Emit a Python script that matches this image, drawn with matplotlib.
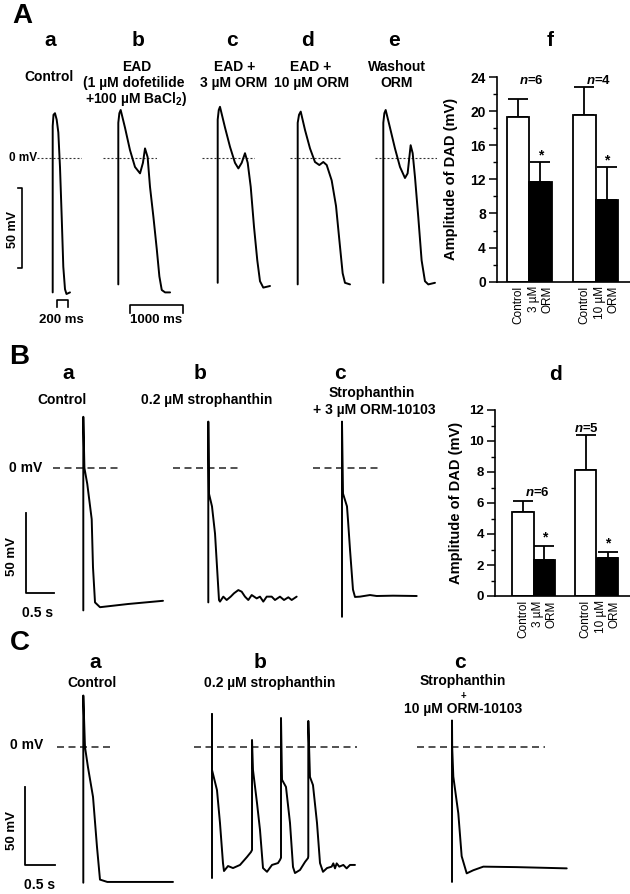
import numpy as np
import matplotlib
matplotlib.use("Agg")
import matplotlib.pyplot as plt
from matplotlib.ticker import AutoMinorLocator

plt.rcParams['font.family'] = ['Liberation Sans', 'DejaVu Sans']
plt.rcParams['mathtext.fontset'] = 'custom'
plt.rcParams['mathtext.rm'] = 'Liberation Sans:bold'
plt.rcParams['mathtext.it'] = 'Liberation Sans:italic:bold'
plt.rcParams['mathtext.bf'] = 'Liberation Sans:bold'

# ---------------------------------------------------------------------------
# traces (time in ms from upstroke, membrane potential in mV)
# ---------------------------------------------------------------------------
# panel A - EAD protocol
a_ctrl = np.array([(0, -84), (0, 20), (15, 27), (43, 28), (75, 24), (106, 16), (138, -6),
                   (170, -37), (200, -68), (232, -82), (260, -85), (326, -84)])
a_ead = np.array([(0, -79), (0, 22), (20, 28), (45, 30), (126, 19), (220, 5), (315, -5.6),
                  (410, -9.6), (465, -3), (504, 6), (553, 0.6), (598, -18), (663, -37),
                  (726, -57), (775, -74), (820, -82.5), (883, -84), (977, -84)])
a_orm3 = np.array([(0, -78), (0, 24), (20, 30), (43, 32), (138, 19), (232, 7), (326, -3),
                   (390, -6.5), (453, -3), (515, 3), (566, -3), (623, -18), (685, -43),
                   (747, -64), (798, -77), (860, -81), (987, -80)])
a_orm10 = np.array([(0, -79), (0, 22), (25, 27), (57, 29), (138, 17.5), (232, 6), (326, -2.5),
                    (408, -4.4), (483, -2.5), (547, -4.4), (641, -14), (723, -30), (785, -51),
                    (848, -72), (892, -78), (987, -79)])
a_wash = np.array([(0, -78), (0, 22), (20, 28), (45, 30), (126, 19), (220, 6), (315, -5.6),
                   (409, -12.5), (459, -9.6), (516, 8), (554, 3), (598, -12), (660, -37),
                   (723, -64), (786, -77), (849, -79), (975, -78)])

# panel B - DAD protocol
b_ctrl = np.array([(0, -89), (0, 32), (20, 0), (71, -10), (150, -32), (173, -62), (209, -84),
                   (298, -87), (800, -85), (1423, -83)])
b_stro = np.array([(0, -84), (0, 29), (12, -16), (66, -24), (120, -41), (173, -72), (191, -82.5),
                   (209, -83.5), (268, -80.4), (328, -82.5), (400, -80.4), (459, -78.3),
                   (536, -76.3), (596, -77.3), (655, -80.4), (714, -82.5), (775, -79.4),
                   (864, -81.5), (923, -80.4), (982, -83.5), (1043, -80.4), (1132, -80.4),
                   (1191, -82.5), (1280, -80.4), (1352, -82.5), (1429, -80.8), (1489, -82.5),
                   (1578, -80.4)])
b_orm3 = np.array([(0, -93), (0, 29), (18, -16), (89, -24), (107, -32.5), (143, -51), (196, -76),
                   (232, -80.6), (321, -80.4), (500, -79.4), (619, -80), (911, -79.8), (1334, -80)])

# panel C - triggered activity
c_ctrl = np.array([(0, -87), (0, 33), (28, 0), (78, -13), (162, -32), (228, -64), (278, -85),
                   (400, -86.5), (1495, -86.5)])
c_stro = np.array([(0, -84), (0, 21), (0, -14.7), (83, -27.6), (133, -48.7), (183, -74.4),
                   (200, -79.5), (267, -76.3), (350, -77.6), (467, -75.6), (583, -70.5),
                   (650, -67.3), (667, -66), (667, 4.5), (683, -14.7), (750, -35.9),
                   (800, -53.2), (850, -77.6), (917, -80), (1000, -75.6), (1100, -74.4),
                   (1133, -72.4), (1150, -71), (1150, 18.6), (1167, -21), (1233, -25.6),
                   (1300, -48.7), (1350, -76.9), (1383, -80.8), (1467, -78.8), (1550, -73.7),
                   (1600, -71.2), (1605, -70), (1605, 16.7), (1633, -19.2), (1683, -24.4),
                   (1750, -48.7), (1800, -74.4), (1850, -80), (1917, -77.6), (1994, -76.7),
                   (2022, -74.6), (2050, -77.8), (2078, -74.6), (2122, -76.7), (2189, -75.6),
                   (2244, -77.8), (2300, -75.6), (2383, -75.6)])
c_orm10 = np.array([(0, -86.5), (0, 17), (3, 0), (22, -19), (105, -42.5), (161, -70), (245, -81),
                    (355, -79), (522, -76.7), (1078, -77), (1912, -77.8)])

# bar charts: DAD amplitude (mV), mean and +SEM
bar_labels_f = ['Control', '3 µM\nORM', 'Control', '10 µM\nORM']
dad_f = [19.3, 11.7, 19.6, 9.6]
sem_f = [2.1, 2.3, 3.2, 3.9]
n_f = ['$n$=6', '$n$=4']

bar_labels_d = ['Control', '3 µM\nORM', 'Control', '10 µM\nORM']
dad_d = [5.45, 2.35, 8.1, 2.45]
sem_d = [0.65, 0.9, 2.3, 0.42]
n_d = ['$n$=6', '$n$=5']

# ---------------------------------------------------------------------------
W, H = 630, 894
fig = plt.figure(figsize=(W / 100, H / 100), dpi=100)


def px_axes(left, top, width, height):
    return fig.add_axes([left / W, 1 - (top + height) / H, width / W, height / H])


def put(x, y, s, size=10, weight='bold', **kw):
    kw.setdefault('ha', 'center')
    kw.setdefault('va', 'center')
    return fig.text(x / W, 1 - y / H, s, fontsize=size, fontweight=weight, **kw)


# pixel scale of each row: position of 0 mV, px per ms, px per mV, zero-line dashes
ROWS = {'A': dict(zero=158, px_ms=0.053, px_mv=1.6, dash=(1.8, 1.8), dlw=0.8, col='#333333'),
        'B': dict(zero=468, px_ms=0.056, px_mv=1.6, dash=(4.2, 2.7), dlw=1.2, col='#333333'),
        'C': dict(zero=747, px_ms=0.060, px_mv=1.56, dash=(4.2, 2.7), dlw=1.2, col='#333333')}


def trace_ax(row, t0_px, span, trace):
    r = ROWS[row]
    lo, hi = span
    vlo, vhi = -100, 40
    ax = px_axes(t0_px + lo * r['px_ms'], r['zero'] - vhi * r['px_mv'],
                 (hi - lo) * r['px_ms'], (vhi - vlo) * r['px_mv'])
    ax.set_xlim(lo, hi)
    ax.set_ylim(vlo, vhi)
    ax.axis('off')
    ax.axhline(0, color=r['col'], lw=r['dlw'], dashes=r['dash'])
    ax.plot(trace[:, 0], trace[:, 1], color='k', lw=1.4, clip_on=False,
            solid_joinstyle='round', solid_capstyle='round')
    return ax


def dad_bars(rect, vals, errs, labels, pos, xlim, ymax, step, nlab, nxy, star_gap, fs, lab_x):
    ax = px_axes(*rect)
    ax.bar(pos, vals, width=1.0, color=['white', 'black', 'white', 'black'],
           edgecolor='k', lw=1.3, zorder=2)
    ax.errorbar(pos, vals, yerr=[np.zeros(len(vals)), errs], fmt='none', ecolor='k',
                elinewidth=1.3, capsize=7, capthick=1.3, zorder=1)
    for i in (1, 3):
        ax.text(pos[i], vals[i] + errs[i] + star_gap, '*', ha='center', va='center',
                fontsize=10, fontweight='bold')
    for s, (x, y) in zip(nlab, nxy):
        ax.text(x, y, s, ha='center', va='center', fontsize=9.5, fontweight='bold')
    ax.set_xlim(*xlim)
    ax.set_ylim(0, ymax)
    ax.set_yticks(np.arange(0, ymax + 0.1, step))
    ax.yaxis.set_minor_locator(AutoMinorLocator(2))
    ax.set_xticks(pos, labels, rotation=90, fontsize=8.5, multialignment='right')
    for t in ax.get_yticklabels():
        t.set_fontweight('bold')
    ax.tick_params(axis='y', which='major', length=6, width=1.1, labelsize=fs, pad=2)
    ax.tick_params(axis='y', which='minor', length=3, width=1.0)
    ax.tick_params(axis='x', length=0, pad=3)
    for side in ('top', 'right'):
        ax.spines[side].set_visible(False)
    for side in ('left', 'bottom'):
        ax.spines[side].set_linewidth(1.2)
    ax.set_ylabel('Amplitude of DAD (mV)', fontsize=10.5, fontweight='bold')
    ax.yaxis.set_label_coords(lab_x, 0.5)
    return ax


# ---------------------------- panel A -------------------------------------
ax_a = trace_ax('A', 52.7, (-296, 553), a_ctrl)
ax_b = trace_ax('A', 118.3, (-289, 730), a_ead)
trace_ax('A', 217.7, (-296, 704), a_orm3)
trace_ax('A', 297.7, (-145, 836), a_orm10)
trace_ax('A', 383.3, (-157, 1007), a_wash)

# scale bars: 50 mV, 200 ms, 1000 ms
ax_a.plot([-655, -585, -585, -655], [-19, -19, -69, -69], color='k', lw=1.2, clip_on=False)
ax_a.plot([81, 81, 281, 281], [-93, -89, -89, -93], color='k', lw=1.2, clip_on=False)
ax_b.plot([221, 221, 1221, 1221], [-97, -92, -92, -97], color='k', lw=1.2, clip_on=False)

put(22, 16, 'A', 20)
for x, s in [(50, 'a'), (138, 'b'), (232, 'c'), (308, 'd'), (394, 'e'), (550, 'f')]:
    put(x, 40, s, 15)
put(49, 77, 'Control')
put(137, 67, 'EAD')
put(134, 83, '(1 µM dofetilide')
put(136, 99, '+100 µM BaCl$_2$)')
put(235, 67, 'EAD +')
put(234, 83, '3 µM ORM')
put(311, 67, 'EAD +')
put(311, 83, '10 µM ORM')
put(397, 67, 'Washout')
put(397, 83, 'ORM')
put(23, 158, '0 mV', 8.5)
put(13, 229, '50 mV', 9, rotation=90)
put(61, 320, '200 ms', 9.5)
put(156, 320, '1000 ms', 9.5)

dad_bars((497, 77, 133, 204.7), dad_f, sem_f, bar_labels_f, [0, 1, 2.95, 3.95],
         (-0.93, 4.98), 24, 4, n_f, [(0.6, 23.6), (3.57, 23.6)], 0.75, 10, -0.29)

# ---------------------------- panel B -------------------------------------
ax_ba = trace_ax('B', 83.3, (-541, 691), b_ctrl)
trace_ax('B', 208.3, (-630, 602), b_stro)
trace_ax('B', 342, (-518, 714), b_orm3)
ax_ba.plot([-1032, -1032, -532], [-28, -78, -78], color='k', lw=1.3, clip_on=False)

put(19, 357, 'B', 20)
put(68, 373, 'a', 15)
put(200, 373, 'b', 15)
put(340, 373, 'c', 15)
put(555, 375, 'd', 15)
put(62, 400, 'Control')
put(207, 400, '0.2 µM strophanthin')
put(372, 393, 'Strophanthin')
put(374, 410, '+ 3 µM ORM-10103')
put(26, 468, '0 mV', 10)
put(12, 557, '50 mV', 9.5, rotation=90)
put(38, 613, '0.5 s', 10)

dad_bars((495, 410, 135, 186), dad_d, sem_d, bar_labels_d, [0, 1, 2.92, 3.94],
         (-1.3, 4.98), 12, 2, n_d, [(0.65, 6.65), (2.96, 10.8)], 0.5, 9.5, -0.24)

# ---------------------------- panel C -------------------------------------
ax_ca = trace_ax('C', 83.3, (-438, 445), c_ctrl)
trace_ax('C', 212, (-300, 2417), c_stro)
trace_ax('C', 452, (-583, 1550), c_orm10)
ax_ca.plot([-972, -972, -472], [-25.6, -75.6, -75.6], color='k', lw=1.3, clip_on=False)

put(20, 643, 'C', 20)
put(95, 662, 'a', 15)
put(260, 662, 'b', 15)
put(460, 662, 'c', 15)
put(92, 683, 'Control')
put(270, 683, '0.2 µM strophanthin')
put(463, 681, 'Strophanthin')
put(463, 695.5, '+', 7)
put(463, 709, '10 µM ORM-10103')
put(27, 745, '0 mV', 10)
put(12, 830, '50 mV', 9.5, rotation=90)
put(40, 885, '0.5 s', 10)

fig.savefig('out.png', dpi=100)
